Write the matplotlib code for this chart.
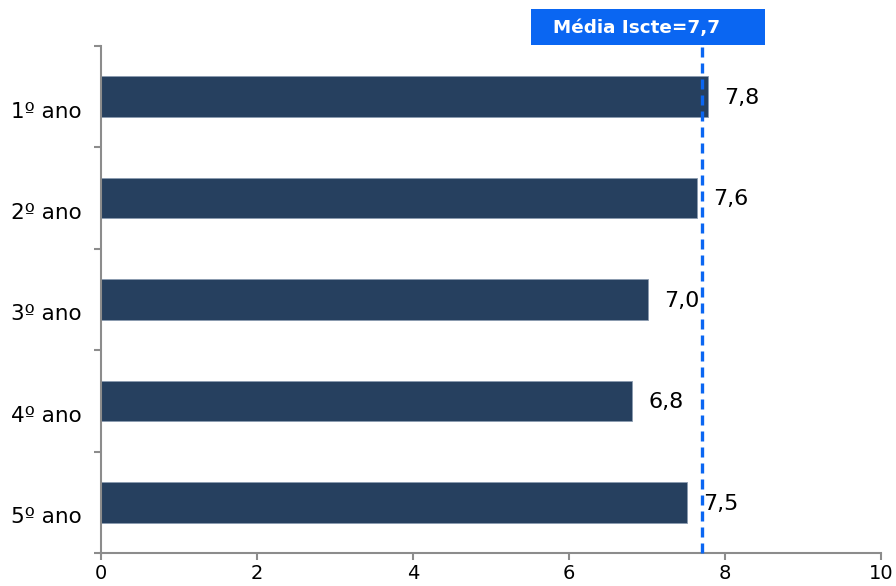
import numpy as np
import matplotlib.pyplot as plt
from matplotlib.patches import Rectangle
import matplotlib.transforms as mtransforms

categorias = ["1º ano", "2º ano", "3º ano", "4º ano", "5º ano"]
valores = [7.78, 7.64, 7.01, 6.81, 7.51]
media_iscte = 7.7
rotulo_media = "Média Iscte=7,7"

cor_barra = "#26405F"
cor_media = "#0A66F2"
cor_eixo = "#8C8C8C"

fig = plt.figure(figsize=(8.96, 5.86), dpi=100)
ax = fig.add_axes([101 / 896, 33 / 586, 780 / 896, 507 / 586])

y = np.arange(len(categorias))
ax.barh(y, valores, height=0.4, color=cor_barra, edgecolor="#8A9BB0", linewidth=0.6, zorder=2)

ax.set_xlim(0, 10)
ax.set_ylim(len(categorias) - 0.5, -0.5)
ax.set_xticks(np.arange(0, 11, 2))
ax.set_yticks(y)
ax.set_yticklabels(categorias)
ax.set_yticks(np.arange(-0.5, len(categorias), 1), minor=True)

for s in ["top", "right"]:
    ax.spines[s].set_visible(False)
for s in ["left", "bottom"]:
    ax.spines[s].set_color(cor_eixo)
    ax.spines[s].set_linewidth(1.5)

ax.tick_params(axis="y", which="major", length=0, labelsize=15.5, pad=14)
ax.tick_params(axis="y", which="minor", length=5, width=1.5, color=cor_eixo)
ax.tick_params(axis="x", which="major", length=5, width=1.5, color=cor_eixo, labelsize=14, pad=3)

# rotulos das categorias um pouco abaixo do centro, como no original
desloc = mtransforms.ScaledTranslation(0, -13 / 100, fig.dpi_scale_trans)
for lbl in ax.get_yticklabels():
    lbl.set_transform(lbl.get_transform() + desloc)

for yi, v in zip(y, valores):
    ax.annotate(f"{v:.1f}".replace(".", ","), xy=(v, yi), xytext=(11.5, -1),
                textcoords="offset points", ha="left", va="center",
                fontsize=16, color="black", zorder=4)

ax.axvline(media_iscte, color=cor_media, linewidth=2.4, linestyle=(0, (3.0, 1.8)), zorder=3,
           clip_on=False)

# caixa da media
fig.patches.append(Rectangle((531 / 896, 1 - 45 / 586), 234 / 896, 36 / 586,
                             transform=fig.transFigure, facecolor=cor_media,
                             edgecolor="none", zorder=5))
fig.text(637 / 896, 1 - 28 / 586, rotulo_media, ha="center", va="center",
         color="white", fontsize=13.2, fontweight="bold", zorder=6)

fig.savefig("out.png", dpi=100)
